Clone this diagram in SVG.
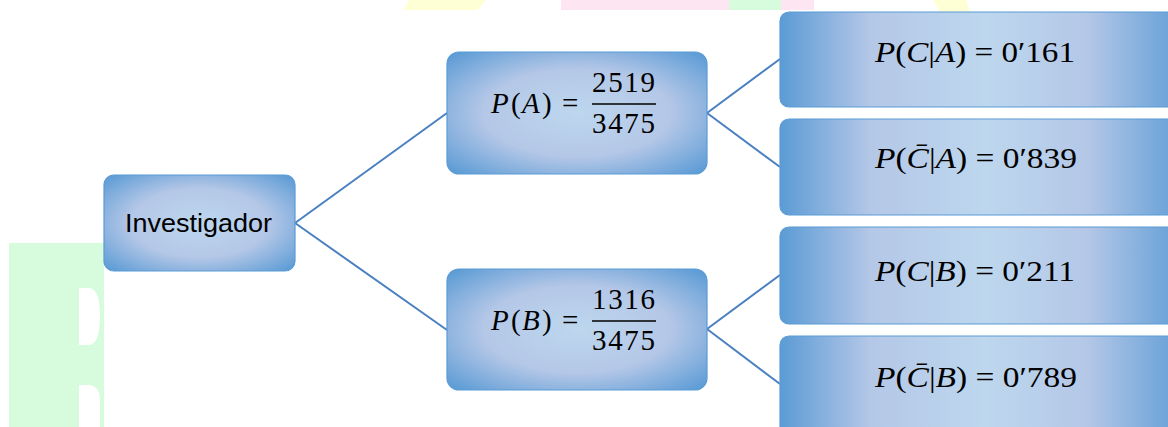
<svg xmlns="http://www.w3.org/2000/svg" width="1168" height="427" viewBox="0 0 1168 427">
<style>
.box{stroke:#5b9bd5;stroke-width:1.2}
.conn{stroke:#4a80c2;stroke-width:2;fill:none}
.lbl{font-family:"Liberation Sans",Arial,sans-serif;font-size:26.5px;fill:#000}
.m{font-family:"Liberation Serif","Times New Roman",serif;font-size:29px;fill:#000}
.i{font-style:italic}
</style>
<defs>
<radialGradient id="rg" cx="0.5" cy="0.5" r="0.72">
<stop offset="0" stop-color="#bdd7ee"/>
<stop offset="0.5" stop-color="#b4c7e7"/>
<stop offset="0.95" stop-color="#5b9bd5"/>
</radialGradient>
<linearGradient id="lg" x1="0" y1="0" x2="1" y2="0">
<stop offset="0" stop-color="#5b9bd5"/>
<stop offset="0.22" stop-color="#b4c7e7"/>
<stop offset="0.5" stop-color="#bdd7ee"/>
<stop offset="0.75" stop-color="#b4c7e7"/>
<stop offset="1" stop-color="#5b9bd5"/>
</linearGradient>
</defs>
<rect width="1168" height="427" fill="#ffffff"/>
<g id="background">
<polygon points="409,0 486,0 478,10 403,10" fill="#ffffd5"/>
<rect x="561" y="0" width="168" height="10" fill="#fde6f2"/>
<rect x="729" y="0" width="52" height="10" fill="#d6fbdd"/>
<rect x="781" y="0" width="33" height="10" fill="#fde6f2"/>
<polygon points="933,0 966,0 970,12 940,12" fill="#ffffd5"/>
<rect x="9" y="243" width="95" height="184" fill="#d6fbdd"/>
<path d="M79,288 H90 Q100,290 100,316 Q100,343 90,345 H79 Z" fill="#ffffff"/>
<path d="M79,385 H90 Q100,387 100,400 V427 H79 Z" fill="#ffffff"/>
</g>
<g id="connectors">
<line class="conn" x1="295" y1="223" x2="447" y2="113"/>
<line class="conn" x1="295" y1="223" x2="447" y2="330"/>
<line class="conn" x1="707" y1="113" x2="780" y2="59"/>
<line class="conn" x1="707" y1="113" x2="780" y2="167"/>
<line class="conn" x1="707" y1="329" x2="780" y2="275"/>
<line class="conn" x1="707" y1="329" x2="780" y2="384"/>
</g>
<g id="investigador">
<rect class="box" x="104" y="175" width="191" height="96" rx="10" fill="url(#rg)"/>
<text class="lbl" x="125" y="232" textLength="147" lengthAdjust="spacingAndGlyphs">Investigador</text>
</g>
<g id="pA">
<rect class="box" x="447" y="52" width="260" height="122" rx="12" fill="url(#rg)"/>
<text class="m" y="113"><tspan class="i" x="491">P</tspan><tspan x="511">(</tspan><tspan class="i" x="522">A</tspan><tspan x="542">)</tspan><tspan x="562">=</tspan></text>
<text class="m" x="623.5" y="92" text-anchor="middle" textLength="63">2519</text>
<line x1="592" y1="104" x2="656" y2="104" stroke="#000" stroke-width="1.5"/>
<text class="m" x="623.5" y="133" text-anchor="middle" textLength="63">3475</text>
</g>
<g id="pB">
<rect class="box" x="447" y="269" width="260" height="121" rx="12" fill="url(#rg)"/>
<text class="m" y="330"><tspan class="i" x="491">P</tspan><tspan x="511">(</tspan><tspan class="i" x="522">B</tspan><tspan x="542">)</tspan><tspan x="562">=</tspan></text>
<text class="m" x="623.5" y="309" text-anchor="middle" textLength="63">1316</text>
<line x1="592" y1="321" x2="656" y2="321" stroke="#000" stroke-width="1.5"/>
<text class="m" x="623.5" y="350" text-anchor="middle" textLength="63">3475</text>
</g>
<g id="pCA">
<rect class="box" x="780" y="12" width="410" height="95" rx="9" fill="url(#lg)"/>
<text class="m" x="875" y="62" textLength="200" lengthAdjust="spacingAndGlyphs"><tspan class="i">P</tspan>(<tspan class="i">C</tspan>|<tspan class="i">A</tspan>) = 0′161</text>
</g>
<g id="pnCA">
<rect class="box" x="780" y="119" width="410" height="96" rx="9" fill="url(#lg)"/>
<text class="m" x="875" y="168" textLength="202" lengthAdjust="spacingAndGlyphs"><tspan class="i">P</tspan>(<tspan class="i">C̄</tspan>|<tspan class="i">A</tspan>) = 0′839</text>
</g>
<g id="pCB">
<rect class="box" x="780" y="227" width="410" height="97" rx="9" fill="url(#lg)"/>
<text class="m" x="875" y="281" textLength="200" lengthAdjust="spacingAndGlyphs"><tspan class="i">P</tspan>(<tspan class="i">C</tspan>|<tspan class="i">B</tspan>) = 0′211</text>
</g>
<g id="pnCB">
<rect class="box" x="780" y="336" width="410" height="100" rx="9" fill="url(#lg)"/>
<text class="m" x="875" y="387" textLength="202" lengthAdjust="spacingAndGlyphs"><tspan class="i">P</tspan>(<tspan class="i">C̄</tspan>|<tspan class="i">B</tspan>) = 0′789</text>
</g>
</svg>
